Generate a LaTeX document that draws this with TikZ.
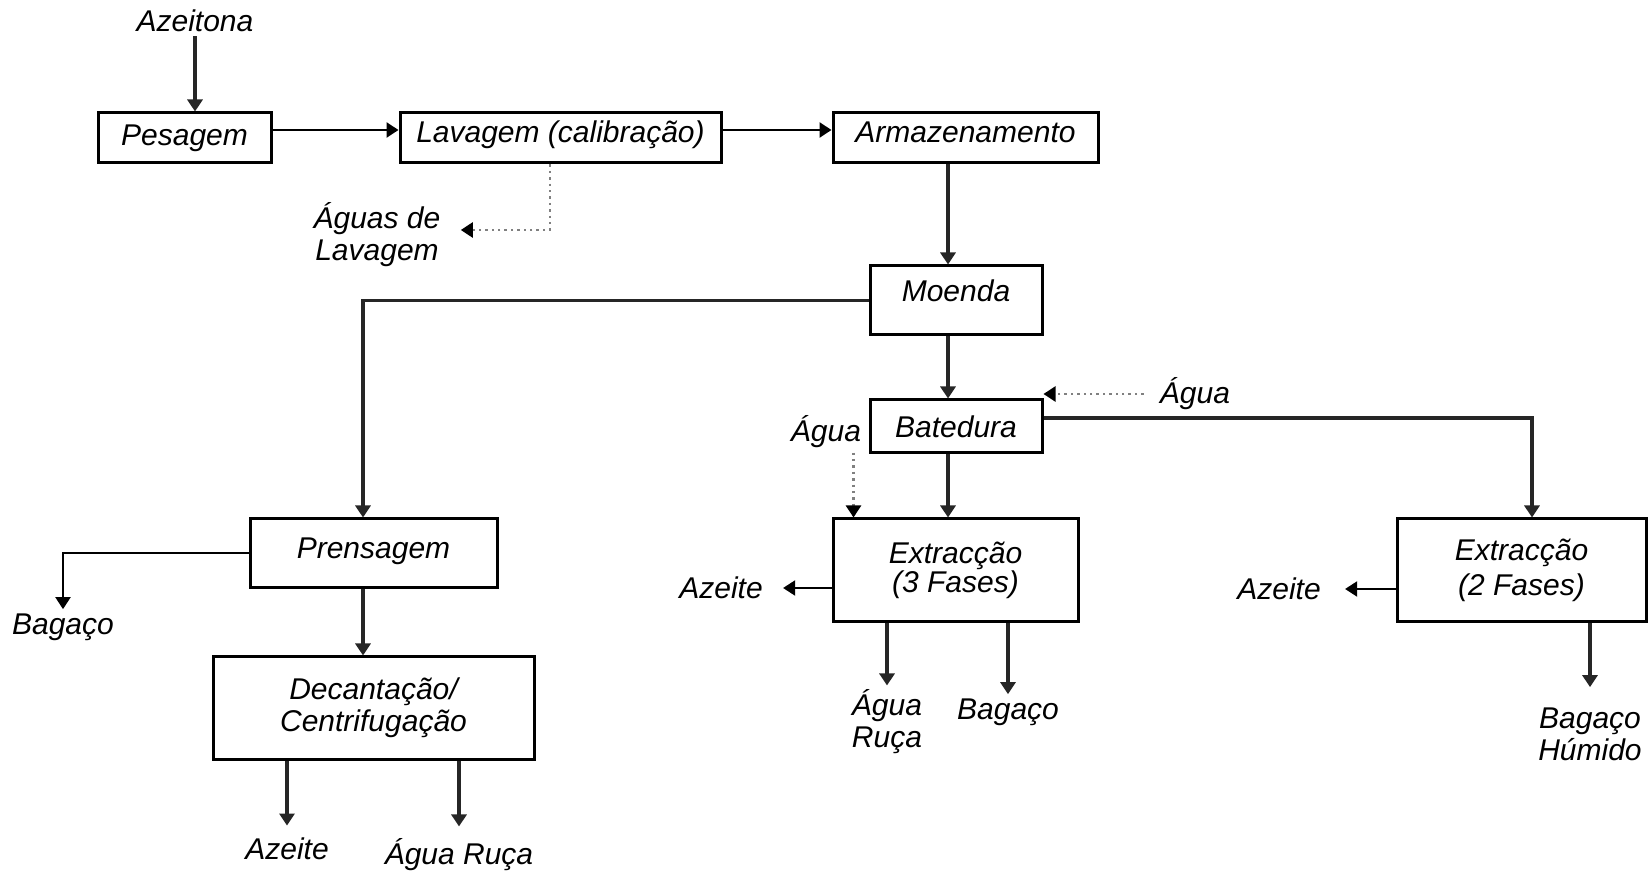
\documentclass[tikz,border=0pt]{standalone}
\usepackage{fontspec}
\setmainfont{Liberation Sans}
\usetikzlibrary{arrows.meta}
\begin{document}
\begin{tikzpicture}[x=0.5pt,y=-0.5pt,
  font=\fontsize{15}{16}\selectfont\itshape,
  box/.style={draw=black, line width=1.5pt, rectangle, inner sep=0pt, align=center},
  lbl/.style={inner sep=2pt, align=center},
  arr/.style={-{Triangle[width=7.5pt,length=6pt]}, line width=1.6pt, draw=black!85},
  thinarr/.style={-{Triangle[width=7.5pt,length=6pt]}, line width=1pt, draw=black},
  dots/.style={-{Triangle[width=7.5pt,length=6pt,color=black]}, line width=1.2pt, draw=black!50, dotted}
]
\useasboundingbox (0,0) rectangle (1651,871);

% process boxes
\node[box, minimum width=86.5pt, minimum height=25pt] (pes) at (184.5,138) {\raisebox{3pt}{Pesagem}};
\node[box, minimum width=160.5pt, minimum height=25pt] (lav) at (560.5,138) {\raisebox{6pt}{Lavagem (calibração)}};
\node[box, minimum width=132.5pt, minimum height=25pt] (arm) at (965.5,138) {\raisebox{6pt}{Armazenamento}};
\node[box, minimum width=86pt, minimum height=34.5pt] (moe) at (956,300.5) {\raisebox{10pt}{Moenda}};
\node[box, minimum width=86pt, minimum height=26.5pt] (bat) at (956,426.5) {Batedura};
\node[box, minimum width=122.5pt, minimum height=51.5pt] (e3) at (955.5,570.5) {Extracção\\[-1.5pt](3 Fases)};
\node[box, minimum width=124.5pt, minimum height=51.5pt] (e2) at (1521.5,570.5) {Extracção\\[1.5pt](2 Fases)};
\node[box, minimum width=123.5pt, minimum height=34.5pt] (pre) at (373.5,553.5) {\raisebox{5pt}{Prensagem}};
\node[box, minimum width=160.5pt, minimum height=51pt] (dec) at (373.5,708) {Decantação/\\Centrifugação};

% labels
\node[lbl] (azt) at (195,21) {Azeitona};
\node[lbl] (aguas) at (377,235) {Águas de\\Lavagem};
\node[lbl] (ag1) at (1195,394) {Água};
\node[lbl] (ag2) at (826,432) {Água};
\node[lbl] (az3) at (721,588) {Azeite};
\node[lbl] (ar3) at (887,722) {Água\\Ruça};
\node[lbl] (bg3) at (1008,712) {Bagaço};
\node[lbl] (az2) at (1279,589) {Azeite};
\node[lbl] (bg2) at (1590,734) {Bagaço\\Húmido};
\node[lbl] (bg1) at (63,627) {Bagaço};
\node[lbl] (az1) at (287,849) {Azeite};
\node[lbl] (ar1) at (459,855) {Água Ruça};

% helper coordinates
\coordinate (sp) at (948,0);
\coordinate (e3in) at ([xshift=11pt]e3.north west);
\coordinate (aguasin) at ([xshift=8pt,yshift=2.5pt]aguas.east);

% connectors
\draw[arr] (azt.south) -- (azt.south |- pes.north);
\draw[thinarr, line width=1.3pt] ([yshift=4pt]pes.east) -- ([yshift=4pt]lav.west);
\draw[thinarr, line width=1.3pt] ([yshift=4pt]lav.east) -- ([yshift=4pt]arm.west);
\draw[dots] ([xshift=-5.25pt]lav.south) |- (aguasin);
\draw[arr] (arm.south -| sp) -- (moe.north -| sp);
\draw[arr] (moe.south -| sp) -- (bat.north -| sp);
\draw[arr] (bat.south -| sp) -- (e3.north -| sp);
\draw[arr] (moe.west) -| ([xshift=-5.25pt]pre.north);
\draw[arr] ([yshift=4.25pt]bat.east) -| ([xshift=5.25pt]e2.north);
\draw[dots] ([xshift=-6pt]ag1.west) -- (ag1.west -| bat.east);
\draw[dots] (e3in |- ag2.south) -- (e3in);
\draw[thinarr] (az3.east -| e3.west) -- ([xshift=8pt]az3.east);
\draw[thinarr] (az2.east -| e2.west) -- ([xshift=10pt]az2.east);
\draw[arr] (e3.south -| ar3.north) -- (ar3.north);
\draw[arr] (e3.south -| bg3.north) -- (bg3.north);
\draw[arr] (e2.south -| bg2.north) -- ([yshift=8pt]bg2.north);
\draw[thinarr] (pre.west) -| (bg1.north);
\draw[arr] (pre.south -| dec.north) ++(-10.5,0) coordinate (pd) -- (pd |- dec.north);
\draw[arr] (dec.south -| az1.north) -- ([yshift=4pt]az1.north);
\draw[arr] (dec.south -| ar1.north) -- ([yshift=4pt]ar1.north);
\end{tikzpicture}
\end{document}
